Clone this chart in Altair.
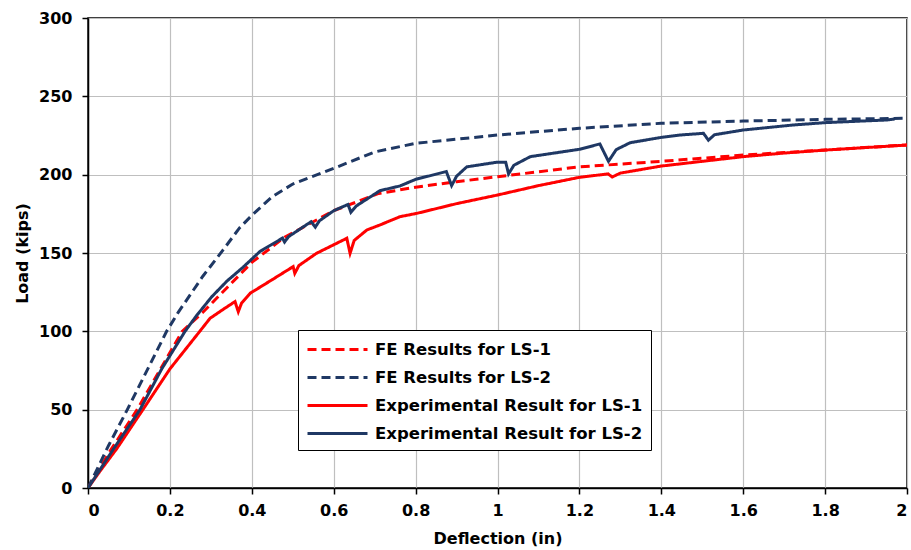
import altair as alt
import pandas as pd

# FE Results for LS-1 (red dashed)
fe1_d = [0, 0.05, 0.12, 0.23, 0.28, 0.34, 0.4, 0.48, 0.6, 0.71, 0.8, 0.9, 1.0, 1.2, 1.4, 1.6, 1.8, 2.0]
fe1_L = [0, 22, 50, 100, 112, 128, 144, 160, 177, 188, 192, 195.5, 198.7, 205, 208.5, 212.5, 215.7, 219]

# FE Results for LS-2 (navy dashed)
fe2_d = [0, 0.05, 0.096, 0.192, 0.22, 0.28, 0.33, 0.37, 0.4, 0.45, 0.5, 0.6, 0.7, 0.8, 1.0, 1.2, 1.4, 1.6, 1.8, 2.0]
fe2_L = [0, 27, 50, 100, 112, 135, 152, 166, 174, 186, 194, 204, 214.5, 220, 225.3, 229.6, 232.8, 234.2, 235.3, 236]

# Experimental Result for LS-1 (red solid)
ex1_d = [0, 0.03, 0.07, 0.134, 0.2, 0.273, 0.298, 0.33, 0.359, 0.367, 0.375, 0.396, 0.45, 0.501,
         0.505, 0.515, 0.558, 0.632, 0.64, 0.65, 0.681, 0.713, 0.762, 0.803, 0.9, 1.0, 1.1, 1.2,
         1.27, 1.28, 1.3, 1.4, 1.5, 1.6, 1.7, 1.8, 1.9, 2.0]
ex1_L = [0, 11, 25, 50, 76, 100, 108.3, 114, 119, 112.5, 118, 124.3, 133, 141.3,
         137, 142, 149.8, 159.4, 149.8, 158, 164.7, 167.9, 173.2, 175.3, 181.5, 187, 193, 198.3,
         200.5, 198.5, 201, 205.5, 208.5, 211.5, 213.8, 215.7, 217.3, 218.9]

# Experimental Result for LS-2 (navy solid)
ex2_d = [0, 0.03, 0.06, 0.127, 0.18, 0.237, 0.265, 0.302, 0.339, 0.379, 0.42, 0.475, 0.48, 0.49,
         0.545, 0.555, 0.565, 0.6, 0.635, 0.642, 0.655, 0.713, 0.762, 0.8, 0.875, 0.888, 0.9, 0.925,
         1.0, 1.02, 1.027, 1.04, 1.08, 1.2, 1.25, 1.271, 1.29, 1.324, 1.4, 1.446, 1.503, 1.515,
         1.53, 1.6, 1.722, 1.8, 1.87, 1.95, 1.97]
ex2_L = [0, 12, 24, 50, 76, 100, 110, 122, 132, 141, 151, 159.5, 157, 160.5,
         170, 166.5, 170.5, 177, 181, 176, 180, 189.8, 192.8, 197, 202, 193, 199, 205,
         208, 208, 200.5, 206, 211.5, 216.2, 219.6, 208.5, 216, 220.4, 223.8, 225.3, 226.4, 222,
         225.5, 228.5, 231.7, 233.2, 234, 234.9, 235.5]

names = ["FE Results for LS-1", "FE Results for LS-2",
         "Experimental Result for LS-1", "Experimental Result for LS-2"]
colors = ["#FF0000", "#1F3864", "#FF0000", "#1F3864"]
dashes = [[9, 5], [9, 5], [1, 0], [1, 0]]

frames = []
for i, (n, d, L) in enumerate(zip(names, [fe1_d, fe2_d, ex1_d, ex2_d], [fe1_L, fe2_L, ex1_L, ex2_L])):
    frames.append(pd.DataFrame({"d": d, "L": L, "series": n, "order": list(range(len(d))), "k": i}))
df = pd.concat(frames, ignore_index=True)

font = "DejaVu Sans"
xvals = [0, 0.2, 0.4, 0.6, 0.8, 1, 1.2, 1.4, 1.6, 1.8, 2]

chart = alt.Chart(df).mark_line(strokeWidth=3, clip=True).encode(
    x=alt.X("d:Q", scale=alt.Scale(domain=[0, 2], nice=False),
            axis=alt.Axis(values=xvals, format="~g", title="Deflection (in)")),
    y=alt.Y("L:Q", scale=alt.Scale(domain=[0, 300], nice=False),
            axis=alt.Axis(values=list(range(0, 301, 50)), title="Load (kips)")),
    color=alt.Color("series:N", scale=alt.Scale(domain=names, range=colors),
                    legend=alt.Legend(title=None, orient="none", legendX=210, legendY=312,
                                      symbolType="M-1,0H5", symbolSize=400, symbolStrokeWidth=3,
                                      labelFont=font, labelFontSize=16.5, labelFontWeight="bold",
                                      labelColor="black", strokeColor="black", fillColor="white",
                                      padding=8, rowPadding=8, labelOffset=46, labelLimit=400)),
    strokeDash=alt.StrokeDash("series:N", scale=alt.Scale(domain=names, range=dashes), legend=None),
    order="order:Q",
    detail="k:N",
).properties(
    width=819, height=470,
    padding={"left": 88, "top": 18, "right": 4, "bottom": 62},
    autosize=alt.AutoSizeParams(type="none"),
).configure_view(
    stroke="black", strokeWidth=1.5
).configure_axis(
    labelFont=font, labelFontSize=16, labelFontWeight="bold", labelColor="black",
    titleFont=font, titleFontSize=16, titleFontWeight="bold", titleColor="black",
    domainColor="black", domainWidth=1.5, tickColor="black", tickSize=6, tickWidth=1.5,
    gridColor="#BFBFBF", gridWidth=1.2,
).configure_axisX(
    labelPadding=8, titlePadding=12,
).configure_axisY(
    labelPadding=10, titlePadding=8,
)

chart.save("out.html", embed_options={"renderer": "svg", "actions": False})
